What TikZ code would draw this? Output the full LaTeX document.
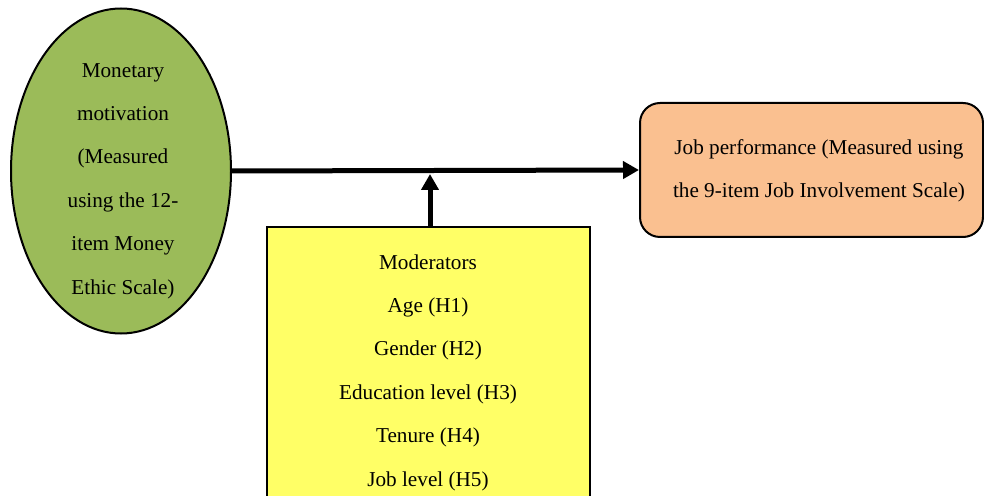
\documentclass[tikz,border=0pt]{standalone}
\usepackage{fontspec}
\setmainfont{Liberation Serif}
\usetikzlibrary{arrows.meta,shapes.geometric}
\definecolor{mgreen}{HTML}{9BBB59}
\definecolor{morange}{HTML}{FAC090}
\definecolor{myellow}{HTML}{FFFF66}
\begin{document}
\begin{tikzpicture}[x=0.5pt,y=-0.5pt,
  txt/.style={align=center,inner sep=0pt,font=\fontsize{10.6}{21.7}\selectfont},
  conn/.style={line width=2.5pt,-{Triangle[length=8pt,width=8.5pt]}}]
\path[use as bounding box] (0,0) rectangle (984,496);
\node[ellipse,draw,line width=1pt,fill=mgreen,minimum width=110pt,minimum height=162.5pt,inner sep=0pt] (mm) at (121,171) {};
\node[txt] (mmt) at (123,181) {Monetary\\motivation\\(Measured\\using the 12-\\item Money\\Ethic Scale)};
\node[draw,line width=1pt,fill=morange,rounded corners=10pt,minimum width=171.5pt,minimum height=67pt,inner sep=0pt] (jp) at (811.5,170) {};
\node[txt] (jpt) at (819,170.5) {Job performance (Measured using\\the 9-item Job Involvement Scale)};
\node[draw,line width=1pt,fill=myellow,minimum width=161.5pt,minimum height=150pt,inner sep=0pt] (mod) at (428.5,377) {};
\node[txt] (modt) at (428,372.5) {Moderators\\Age (H1)\\Gender (H2)\\Education level (H3)\\Tenure (H4)\\Job level (H5)};
\coordinate (j) at (430,174);
\draw[conn] (mm.east) -- (jp.west);
\draw[conn] (mod.north -| j) -- (j);
\end{tikzpicture}
\end{document}
